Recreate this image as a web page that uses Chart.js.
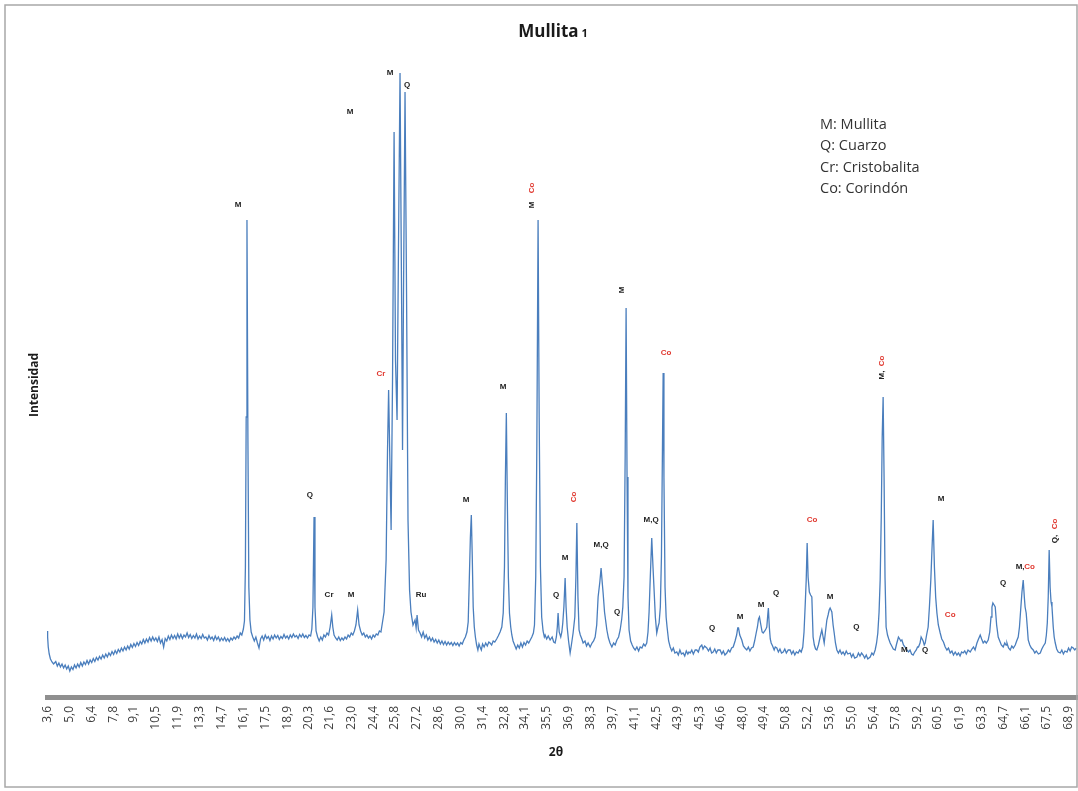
<!DOCTYPE html>
<html><head><meta charset="utf-8">
<script src="https://cdn.jsdelivr.net/npm/chart.js@4"></script>
<style>html,body{margin:0;padding:0;background:#fff;}#wrap{width:1078px;height:791px;}</style>
</head><body><div id="wrap"><canvas id="c" width="1078" height="791"></canvas></div>
<script>
const tickLabels = ['3,6','5,0','6,4','7,8','9,1','10,5','11,9','13,3','14,7','16,1','17,5','18,9','20,3','21,6','23,0','24,4','25,8','27,2','28,6','30,0','31,4','32,8','34,1','35,5','36,9','38,3','39,7','41,1','42,5','43,9','45,3','46,6','48,0','49,4','50,8','52,2','53,6','55,0','56,4','57,8','59,2','60,5','61,9','63,3','64,7','66,1','67,5','68,9'];

// [2θ, intensidad]
const scan03_16 = [[3.54,660],[3.58,600],[3.62,500],[3.68,430],[3.76,380],[3.86,350],[3.96,330],[4.1,355],[4.2,310],[4.3,340],[4.4,300],[4.5,330],[4.6,290],[4.7,320],[4.8,280],[4.9,310],[5.0,260],[5.1,300],[5.2,275],[5.3,320],[5.4,290],[5.5,330],[5.6,300],[5.7,345],[5.8,310],[5.9,350],[6.0,325],[6.1,365],[6.2,330],[6.3,370],[6.4,345],[6.5,385],[6.6,355],[6.7,395],[6.8,370],[6.9,405],[7.0,380],[7.1,420],[7.2,390],[7.3,430],[7.4,400],[7.5,440],[7.6,415],[7.7,455],[7.8,425],[7.9,465],[8.0,435],[8.1,475],[8.2,450],[8.3,490],[8.4,460],[8.5,500],[8.6,470],[8.7,510],[8.8,480],[8.9,525],[9.0,495],[9.1,535],[9.2,505],[9.3,545],[9.4,515],[9.5,555],[9.6,530],[9.7,575],[9.8,540],[9.9,580],[10.0,550],[10.1,595],[10.2,560],[10.3,600],[10.4,565],[10.5,590],[10.6,555],[10.7,600],[10.8,540],[10.9,575],[11.0,500],[11.1,585],[11.2,560],[11.3,610],[11.4,575],[11.5,620],[11.6,585],[11.7,615],[11.8,580],[11.9,630],[12.0,590],[12.1,625],[12.2,585],[12.3,620],[12.4,600],[12.5,640],[12.6,595],[12.7,625],[12.8,585],[12.9,615],[13.0,590],[13.1,630],[13.2,580],[13.3,610],[13.4,585],[13.5,625],[13.6,590],[13.7,600],[13.8,570],[13.9,615],[14.0,580],[14.1,600],[14.2,565],[14.3,610],[14.4,575],[14.5,600],[14.6,560],[14.7,590],[14.8,565],[14.9,595],[15.0,560],[15.1,585],[15.2,555],[15.3,590],[15.4,570],[15.5,600],[15.6,580],[15.7,610],[15.8,590],[15.9,640]];
const scan16_25 = [[16.0,620],[16.1,680],[16.17,760],[16.23,1300],[16.28,2800],[16.33,4770],[16.39,2600],[16.45,1100],[16.52,770],[16.6,650],[16.7,600],[16.8,560],[16.9,600],[17.0,540],[17.1,490],[17.2,580],[17.3,610],[17.4,570],[17.5,620],[17.6,585],[17.7,605],[17.8,565],[17.9,610],[18.0,580],[18.1,620],[18.2,590],[18.3,615],[18.4,575],[18.5,605],[18.6,585],[18.7,625],[18.8,590],[18.9,610],[19.0,580],[19.1,620],[19.2,595],[19.3,630],[19.4,600],[19.5,615],[19.6,585],[19.7,625],[19.8,600],[19.9,630],[20.0,595],[20.1,615],[20.2,590],[20.3,620],[20.4,610],[20.48,680],[20.55,900],[20.62,1800],[20.68,900],[20.75,660],[20.85,600],[20.95,560],[21.05,600],[21.15,570],[21.25,620],[21.35,600],[21.45,640],[21.55,620],[21.65,700],[21.75,820],[21.82,700],[21.9,620],[22.0,590],[22.1,570],[22.2,600],[22.3,565],[22.4,590],[22.5,570],[22.6,600],[22.7,580],[22.8,620],[22.9,600],[23.0,640],[23.1,620],[23.2,660],[23.3,720],[23.41,870],[23.5,720],[23.6,660],[23.7,620],[23.8,640],[23.9,600],[24.0,620],[24.1,590],[24.2,610],[24.3,580],[24.4,620],[24.5,600],[24.6,630],[24.7,620],[24.8,660]];
const scan25_27 = [[24.9,650],[25.1,850],[25.23,1370],[25.32,2470],[25.39,3070],[25.48,2270],[25.55,1670],[25.64,3170],[25.74,5650],[25.83,3370],[25.93,2770],[26.02,4470],[26.12,6240],[26.22,3970],[26.28,2470],[26.34,3970],[26.44,6050],[26.54,3970],[26.63,1770],[26.73,1070],[26.82,850],[26.95,720],[27.08,770],[27.15,690],[27.21,820]];
const scan27_35 = [[27.3,670],[27.4,640],[27.5,600],[27.6,650],[27.7,590],[27.8,620],[27.9,570],[28.0,600],[28.1,560],[28.2,590],[28.3,550],[28.4,575],[28.5,540],[28.6,570],[28.7,530],[28.8,560],[28.9,525],[29.0,555],[29.1,520],[29.2,550],[29.3,525],[29.4,545],[29.5,515],[29.6,545],[29.7,520],[29.8,540],[29.9,510],[30.0,545],[30.1,530],[30.2,570],[30.3,600],[30.4,650],[30.48,750],[30.55,1170],[30.62,1600],[30.68,1820],[30.74,1400],[30.8,900],[30.87,700],[30.94,600],[31.02,520],[31.1,470],[31.17,530],[31.24,500],[31.32,470],[31.4,530],[31.5,500],[31.6,540],[31.7,510],[31.8,550],[31.88,540],[31.98,520],[32.08,560],[32.18,550],[32.3,580],[32.4,610],[32.52,650],[32.63,700],[32.72,840],[32.8,1300],[32.86,2200],[32.92,2840],[32.98,2000],[33.05,1200],[33.12,840],[33.2,700],[33.27,620],[33.35,560],[33.45,520],[33.55,480],[33.65,520],[33.75,490],[33.85,540],[33.95,500],[34.05,545],[34.15,520],[34.25,560],[34.35,540],[34.45,570],[34.55,600],[34.65,640],[34.72,720],[34.8,1200],[34.87,2500],[34.95,4770],[35.02,2800],[35.1,1300],[35.18,800],[35.27,660],[35.35,600]];
const scan35_45 = [[35.4,620],[35.5,580],[35.6,610],[35.72,570],[35.85,600],[35.95,550],[36.04,540],[36.12,600],[36.18,700],[36.23,840],[36.3,650],[36.4,600],[36.47,650],[36.53,740],[36.6,900],[36.68,1190],[36.74,900],[36.81,700],[36.9,560],[37.0,440],[37.08,520],[37.19,640],[37.3,800],[37.37,1200],[37.43,1740],[37.5,1000],[37.57,670],[37.65,620],[37.75,580],[37.83,540],[37.95,560],[38.05,510],[38.15,540],[38.28,500],[38.4,540],[38.5,560],[38.6,600],[38.7,720],[38.79,1000],[38.9,1150],[38.98,1290],[39.05,1150],[39.11,1040],[39.2,850],[39.35,670],[39.45,590],[39.55,540],[39.67,500],[39.78,540],[39.88,520],[39.99,570],[40.1,600],[40.2,670],[40.3,780],[40.37,900],[40.45,1200],[40.52,2400],[40.58,3890],[40.64,2200],[40.7,1000],[40.77,670],[40.87,560],[40.97,520],[41.06,490],[41.16,470],[41.27,500],[41.38,460],[41.48,500],[41.59,490],[41.7,530],[41.8,510],[41.9,540],[41.98,650],[42.05,850],[42.12,1170],[42.22,1590],[42.3,1300],[42.37,1070],[42.45,800],[42.54,640],[42.62,700],[42.69,740],[42.77,900],[42.84,1400],[42.9,2400],[42.95,3240],[43.0,2200],[43.07,1100],[43.14,800],[43.2,700],[43.3,560],[43.4,500],[43.5,460],[43.6,490],[43.7,440],[43.82,450],[43.92,420],[44.02,470],[44.12,430],[44.23,440],[44.33,410],[44.43,460],[44.53,430],[44.6,450],[44.68,440],[44.78,470],[44.88,430],[45.0,470]];
const scan45_57 = [[45.1,470],[45.2,450],[45.3,500],[45.42,520],[45.5,480],[45.6,510],[45.74,490],[45.85,460],[45.95,490],[46.05,440],[46.15,450],[46.25,480],[46.35,440],[46.45,470],[46.59,470],[46.7,430],[46.8,460],[46.9,420],[47.02,440],[47.12,470],[47.22,450],[47.33,490],[47.43,500],[47.55,560],[47.65,620],[47.72,690],[47.77,690],[47.85,620],[47.98,570],[48.08,510],[48.18,490],[48.3,470],[48.4,500],[48.5,460],[48.6,490],[48.71,500],[48.8,560],[48.9,640],[48.98,700],[49.05,780],[49.11,800],[49.2,720],[49.28,650],[49.35,640],[49.45,660],[49.52,680],[49.58,700],[49.64,820],[49.68,890],[49.74,700],[49.8,580],[49.86,540],[49.95,510],[50.05,470],[50.12,500],[50.22,490],[50.32,450],[50.42,480],[50.52,440],[50.63,450],[50.73,480],[50.83,440],[50.95,470],[51.07,470],[51.17,430],[51.27,460],[51.37,420],[51.47,450],[51.58,440],[51.68,470],[51.78,450],[51.88,500],[51.96,650],[52.03,900],[52.1,1170],[52.16,1540],[52.22,1200],[52.3,1050],[52.38,1020],[52.46,1000],[52.54,600],[52.62,520],[52.7,480],[52.78,470],[52.88,520],[52.99,600],[53.1,670],[53.18,600],[53.25,540],[53.33,650],[53.42,770],[53.5,820],[53.57,870],[53.63,890],[53.74,850],[53.82,720],[53.89,640],[53.97,540],[54.06,470],[54.16,440],[54.26,470],[54.36,430],[54.46,450],[54.56,420],[54.66,460],[54.76,430],[54.91,440],[55.0,400],[55.1,430],[55.2,390],[55.34,400],[55.44,440],[55.54,410],[55.64,440],[55.74,420],[55.84,390],[55.94,420],[56.04,380],[56.19,400],[56.3,440],[56.4,420],[56.51,470],[56.6,540],[56.68,640],[56.76,850],[56.83,1170],[56.9,1800],[56.96,2600],[57.02,3000],[57.08,2200],[57.14,1200]];
const scan57_69 = [[57.21,700],[57.3,620],[57.38,580],[57.47,540],[57.57,510],[57.67,480],[57.79,470],[57.88,530],[57.95,570],[58.0,600],[58.08,580],[58.15,560],[58.22,570],[58.32,520],[58.42,500],[58.54,470],[58.64,450],[58.74,470],[58.84,430],[58.94,420],[59.04,450],[59.14,470],[59.22,500],[59.28,500],[59.38,540],[59.45,600],[59.5,600],[59.58,560],[59.65,520],[59.71,540],[59.8,620],[59.9,700],[59.98,900],[60.07,1170],[60.15,1500],[60.22,1770],[60.3,1300],[60.38,1000],[60.46,840],[60.55,720],[60.67,640],[60.77,580],[60.88,550],[60.99,500],[61.1,470],[61.2,490],[61.31,440],[61.42,460],[61.52,420],[61.63,450],[61.74,420],[61.84,440],[61.94,410],[62.04,450],[62.14,440],[62.24,460],[62.34,430],[62.45,470],[62.59,450],[62.7,480],[62.8,500],[62.9,470],[63.02,540],[63.12,580],[63.23,620],[63.32,580],[63.42,540],[63.52,560],[63.62,540],[63.74,570],[63.84,650],[63.92,800],[63.98,900],[64.04,940],[64.12,920],[64.19,900],[64.28,720],[64.38,600],[64.48,560],[64.58,520],[64.7,500],[64.8,540],[64.88,520],[64.94,540],[65.04,490],[65.15,470],[65.25,510],[65.35,490],[65.47,520],[65.56,560],[65.66,600],[65.74,700],[65.83,900],[65.9,1050],[65.98,1170],[66.05,1000],[66.1,900],[66.17,840],[66.24,700],[66.3,570],[66.4,520],[66.5,490],[66.62,470],[66.72,440],[66.82,460],[66.95,430],[67.07,440],[67.17,480],[67.27,510],[67.39,540],[67.46,620],[67.52,740],[67.58,1000],[67.64,1470],[67.7,1100],[67.76,950],[67.82,900],[67.9,700],[67.96,600],[68.03,540],[68.12,480],[68.22,450],[68.35,440],[68.45,470],[68.55,430],[68.65,460],[68.78,450],[68.88,490],[68.98,460],[69.08,500],[69.18,490],[69.28,470],[69.37,490]];

// [2θ, intensidad, texto, color, rotado]
const peakLabels = [
 [15.76,4920,'M','#222',0],[22.92,5850,'M','#222',0],[25.48,6240,'M','#222',0],[26.57,6120,'Q','#222',0],
 [24.9,3230,'Cr','#e0382f',0],[20.36,2020,'Q','#222',0],[21.58,1020,'Cr','#222',0],[22.99,1020,'M','#222',0],
 [27.46,1020,'Ru','#222',0],[30.34,1970,'M','#222',0],[32.71,3100,'M','#222',0],
 [34.57,4920,'M','#222',1],[34.57,5090,'Co','#e0382f',1],[36.1,1020,'Q','#222',0],[36.68,1390,'M','#222',0],
 [37.25,2000,'Co','#e0382f',1],[38.98,1520,'M,Q','#222',0],[40.01,850,'Q','#222',0],[40.32,4070,'M','#222',1],
 [42.18,1770,'M,Q','#222',0],[43.14,3440,'Co','#e0382f',0],[46.08,690,'Q','#222',0],[47.87,800,'M','#222',0],
 [49.22,920,'M','#222',0],[50.18,1040,'Q','#222',0],[52.48,1770,'Co','#e0382f',0],[53.63,1000,'M','#222',0],
 [55.3,700,'Q','#222',0],[56.96,3220,'M,','#222',1],[56.96,3360,'Co','#e0382f',1],[58.37,470,'M','#222',0],
 [59.71,470,'Q','#222',0],[61.31,820,'Co','#e0382f',0],[60.73,1980,'M','#222',0],[64.7,1140,'Q','#222',0],
 [65.78,1300,'M,','#222',0],[66.38,1300,'Co','#e0382f',0],[67.99,1580,'Q,','#222',1],[67.99,1730,'Co','#e0382f',1]
];
const legendLines = ['M: Mullita','Q: Cuarzo','Cr: Cristobalita','Co: Corindón'];

const scan = [].concat(scan03_16,scan16_25,scan25_27,scan27_35,scan35_45,scan45_57,scan57_69).map(p=>({x:p[0],y:p[1]}));
const tickValues = tickLabels.map(s=>parseFloat(s.replace(',','.')));

const overlay = {
  id:'overlay',
  afterDraw(chart){
    const ctx = chart.ctx, xs = chart.scales.x, ys = chart.scales.y;
    ctx.save();
    ctx.strokeStyle = '#a8a8a8'; ctx.lineWidth = 1.5;
    ctx.strokeRect(5,5,1072,782);
    // title
    ctx.fillStyle = '#1a1a1a'; ctx.textBaseline = 'alphabetic'; ctx.textAlign = 'left';
    ctx.font = 'bold 17px "Open Sans"';
    const t1 = 'Mullita'; const w1 = ctx.measureText(t1).width;
    ctx.font = 'bold 11px "Open Sans"'; const w2 = ctx.measureText(' 1').width;
    let x0 = 553 - (w1+w2)/2;
    ctx.font = 'bold 17px "Open Sans"'; ctx.fillText(t1, x0, 37);
    ctx.font = 'bold 11px "Open Sans"'; ctx.fillText(' 1', x0+w1, 37);
    // axis titles
    ctx.font = 'bold 12px "Open Sans"'; ctx.textAlign = 'center'; ctx.textBaseline = 'middle';
    ctx.fillText('2θ', 556, 753);
    ctx.save(); ctx.translate(35,385); ctx.rotate(-Math.PI/2); ctx.fillText('Intensidad',0,0); ctx.restore();
    // legend text
    ctx.font = '14.5px "Open Sans"'; ctx.fillStyle = '#333'; ctx.textAlign = 'left';
    legendLines.forEach((s,i)=>ctx.fillText(s, 820, 125 + i*21.3));
    // peak labels
    ctx.font = 'bold 8px "Liberation Sans"';
    peakLabels.forEach(a=>{
      const px = xs.getPixelForValue(a[0]), py = ys.getPixelForValue(a[1]);
      ctx.fillStyle = a[3]; ctx.textAlign = 'center'; ctx.textBaseline = 'middle';
      if (a[4]) { ctx.save(); ctx.translate(px,py); ctx.rotate(-Math.PI/2); ctx.fillText(a[2],0,0); ctx.restore(); }
      else ctx.fillText(a[2],px,py);
    });
    ctx.restore();
  }
};

new Chart(document.getElementById('c'), {
  type:'line',
  data:{datasets:[{data:scan, borderColor:'#4a7ebd', borderWidth:1.3, pointRadius:0, tension:0, fill:false}]},
  options:{
    responsive:false, animation:false, devicePixelRatio:1,
    layout:{padding:{left:47,right:1,top:57,bottom:44}},
    plugins:{legend:{display:false},tooltip:{enabled:false},title:{display:false}},
    scales:{
      x:{type:'linear',min:3.54,max:69.42,
        afterBuildTicks(s){ s.ticks = tickValues.map(v=>({value:v})); },
        afterFit(s){ s.height = 50; s.paddingLeft = 0; s.paddingRight = 0; },
        grid:{display:false, drawTicks:false},
        border:{display:true, color:'#8f8f8f', width:5},
        ticks:{autoSkip:false, minRotation:90, maxRotation:90, padding:9, color:'#404040',
          font:{family:'"Open Sans"', size:12}, callback:(v,i)=>tickLabels[i]}},
      y:{display:false,min:0,max:6400}
    }
  },
  plugins:[overlay]
});
</script></body></html>
